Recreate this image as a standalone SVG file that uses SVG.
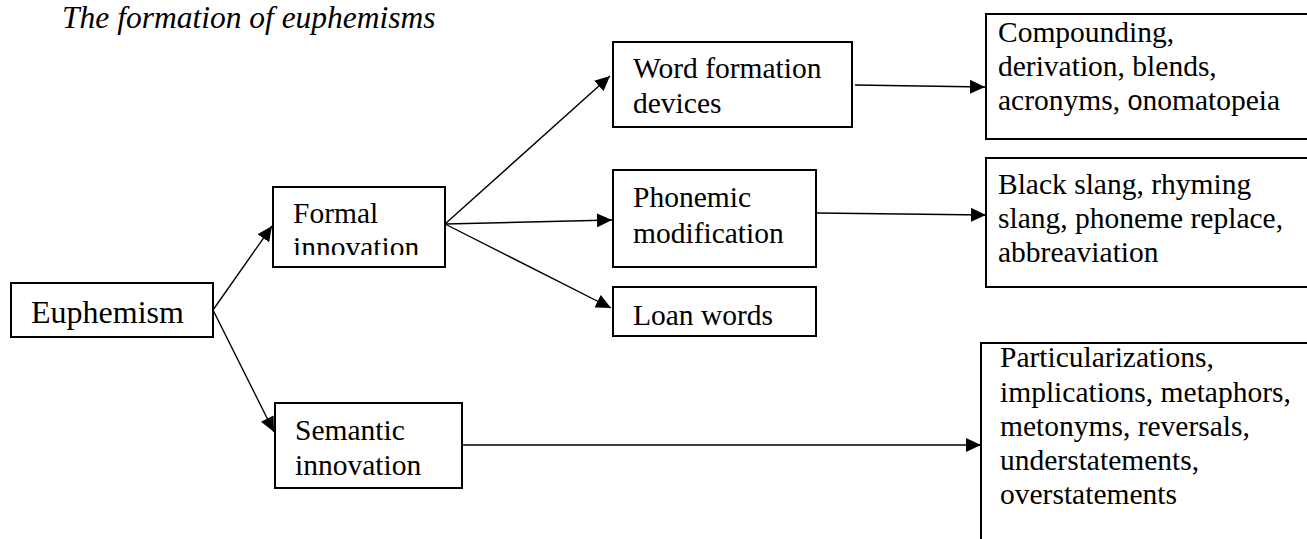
<svg xmlns="http://www.w3.org/2000/svg" width="1307" height="539" viewBox="0 0 1307 539">
  <style>
    .box { fill: #ffffff; stroke: #000000; stroke-width: 2; }
    .t { font-family: "Liberation Serif", "Times New Roman", serif; font-size: 29.5px; fill: #000000; }
    .big { font-size: 32px; }
    .title { font-family: "Liberation Serif", "Times New Roman", serif; font-size: 31.5px; font-style: italic; fill: #000000; }
    .conn { stroke: #000000; stroke-width: 1.4; fill: none; marker-end: url(#arrow); }
    .sans { font-family: "Liberation Sans", Arial, sans-serif; font-size: 27px; }
  </style>
  <defs>
    <marker id="arrow" markerUnits="userSpaceOnUse" markerWidth="16" markerHeight="14" refX="15" refY="7" orient="auto">
      <path d="M0,0 L15,7 L0,14 z" fill="#000000"/>
    </marker>
    <clipPath id="formalClip">
      <rect x="273" y="187" width="172" height="68"/>
    </clipPath>
  </defs>
  <rect width="1307" height="539" fill="#ffffff"/>
  <text class="title" x="62" y="28">The formation of euphemisms</text>

  <g id="connectors">
    <line class="conn" x1="213" y1="310" x2="272" y2="226"/>
    <line class="conn" x1="213" y1="310" x2="274" y2="432"/>
    <line class="conn" x1="445" y1="224" x2="610" y2="76"/>
    <line class="conn" x1="445" y1="224" x2="612" y2="220"/>
    <line class="conn" x1="445" y1="224" x2="611" y2="308"/>
    <line class="conn" x1="855" y1="85" x2="985" y2="87"/>
    <line class="conn" x1="817" y1="213" x2="986" y2="215"/>
    <line class="conn" x1="462" y1="445" x2="981" y2="445"/>
  </g>

  <g id="euphemism">
    <rect class="box" x="11" y="283" width="202" height="54"/>
    <text class="t big" x="31" y="323">Euphemism</text>
  </g>
  <g id="formal">
    <rect class="box" x="273" y="187" width="172" height="80"/>
    <g clip-path="url(#formalClip)">
      <text class="t" x="293" y="223">Formal</text>
      <text class="t" x="293" y="257">innovation</text>
    </g>
  </g>
  <g id="semantic">
    <rect class="box" x="275" y="403" width="187" height="85"/>
    <text class="t" x="295" y="440">Semantic</text>
    <text class="t" x="295" y="475">innovation</text>
  </g>
  <g id="wordformation">
    <rect class="box" x="613" y="42" width="239" height="85"/>
    <text class="t" x="633" y="78">Word formation</text>
    <text class="t" x="633" y="113">devices</text>
  </g>
  <g id="phonemic">
    <rect class="box" x="613" y="170" width="203" height="97"/>
    <text class="t" x="633" y="207">Phonemic</text>
    <text class="t" x="633" y="243">modification</text>
  </g>
  <g id="loanwords">
    <rect class="box" x="613" y="287" width="203" height="49"/>
    <text class="t" x="633" y="325">Loan words</text>
  </g>
  <g id="compounding">
    <rect class="box" x="986" y="14" width="330" height="125"/>
    <text class="t" x="998" y="42">Compounding,</text>
    <text class="t" x="998" y="76">derivation, blends,</text>
    <text class="t" x="998" y="110">acronyms, <tspan class="sans">o</tspan>nomatopeia</text>
  </g>
  <g id="blackslang">
    <rect class="box" x="986" y="158" width="330" height="129"/>
    <text class="t" x="998" y="194">Black slang, rhyming</text>
    <text class="t" x="998" y="228">slang, phoneme replace,</text>
    <text class="t" x="998" y="262">abbreaviation</text>
  </g>
  <g id="particularizations">
    <rect class="box" x="981" y="343" width="340" height="210"/>
    <text class="t" x="1000" y="367">Particularizations,</text>
    <text class="t" x="1000" y="402">implications, metaphors,</text>
    <text class="t" x="1000" y="436">metonyms, reversals,</text>
    <text class="t" x="1000" y="470">understatements,</text>
    <text class="t" x="1000" y="504">overstatements</text>
  </g>
</svg>
